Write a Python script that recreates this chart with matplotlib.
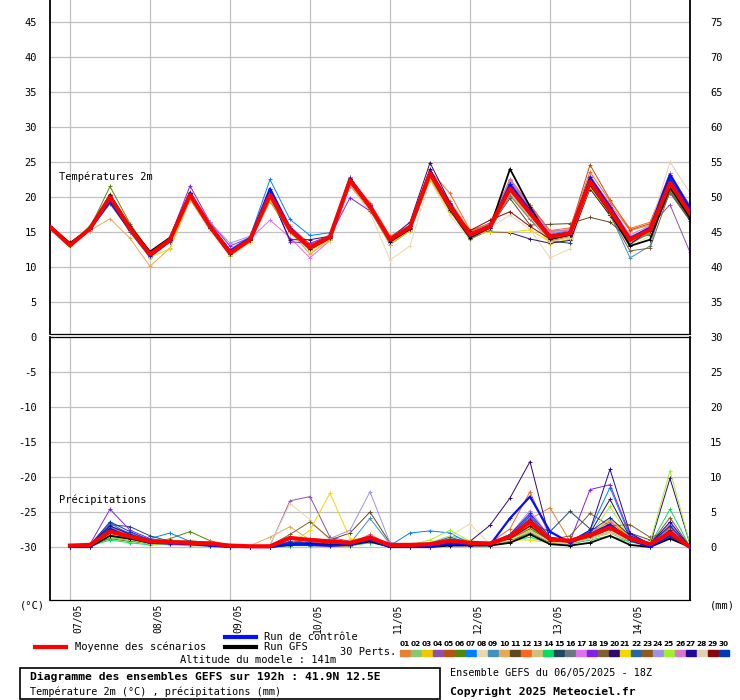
import matplotlib
matplotlib.use("Agg")
import matplotlib.pyplot as plt
from matplotlib.lines import Line2D
from matplotlib.patches import Rectangle
from matplotlib.transforms import ScaledTranslation

plt.rcParams['font.family'] = ['DejaVu Sans Mono']
plt.rcParams['axes.unicode_minus'] = False

# 6-hourly steps of the 06/05/2025 18Z run
hours_temp = list(range(0, 193, 6))
hours_precip = list(range(6, 193, 6))
day_ticks = [6, 30, 54, 78, 102, 126, 150, 174]
day_labels = ["07/05", "08/05", "09/05", "10/05", "11/05", "12/05", "13/05", "14/05"]

member_colors = ["#e88030", "#88c870", "#f0c800", "#9050b0", "#b85010", "#508808",
                 "#0080ff", "#e8d8b0", "#4090c0", "#e8a858", "#604820", "#f86820",
                 "#d0c080", "#00e060", "#204860", "#687880", "#e070f0", "#8020f0",
                 "#806030", "#300870", "#f0d800", "#2868a0", "#905820", "#a090e8",
                 "#a0f030", "#d878d0", "#200898", "#e0d0b0", "#880808", "#0038b8"]

mean_temp = [15.7, 13.1, 15.5, 20.0, 15.5, 11.8, 13.9, 20.3, 15.8, 12.0, 13.9, 20.3, 15.3, 12.8, 14.3, 22.4, 18.6,
             13.9, 15.7, 23.4, 18.6, 14.6, 15.8, 21.2, 17.7, 14.3, 14.8, 22.2, 18.1, 13.9, 15.3, 22.0, 17.7]
control_temp = [15.7, 13.1, 15.4, 19.4, 15.3, 11.6, 13.8, 20.6, 15.9, 12.3, 14.1, 21.2, 15.6, 12.9, 14.4, 22.6, 18.7,
                13.9, 15.8, 23.6, 18.8, 14.5, 15.7, 21.8, 18.1, 14.4, 14.9, 22.8, 18.6, 14.1, 15.6, 23.2, 18.4]
gfs_temp = [15.9, 13.4, 15.5, 20.3, 15.8, 12.2, 14.2, 20.6, 15.6, 11.8, 13.9, 20.4, 15.2, 12.6, 14.2, 22.6, 18.6,
            13.6, 15.4, 23.2, 18.2, 14.2, 15.6, 24.0, 18.6, 14.0, 14.6, 21.8, 17.8, 13.0, 13.9, 21.4, 17.0]

temp_members = [
    [15.6, 13.2, 15.4, 19.6, 15.8, 12.2, 13.6, 20.0, 16.2, 12.4, 13.5, 20.6, 15.8, 13.2, 14.0, 22.0, 19.0, 14.3, 15.9, 23.8, 19.4, 15.2, 16.2, 22.0, 18.6, 15.0, 14.6, 23.0, 19.0, 15.2, 16.0, 22.8, 18.4],
    [15.8, 13.0, 15.7, 20.3, 15.2, 11.6, 14.2, 20.6, 15.6, 11.8, 14.1, 20.0, 15.0, 12.6, 14.6, 22.6, 18.2, 13.6, 15.3, 22.8, 18.0, 14.2, 15.4, 21.0, 17.4, 13.6, 14.4, 21.4, 17.5, 13.5, 15.1, 21.0, 17.0],
    [15.6, 13.1, 15.6, 19.8, 15.4, 11.3, 13.8, 20.1, 15.9, 12.2, 13.8, 20.4, 15.5, 13.0, 14.2, 22.2, 18.8, 13.4, 15.5, 23.0, 18.4, 14.0, 15.2, 20.4, 17.0, 13.3, 14.0, 21.8, 17.8, 13.2, 14.9, 21.6, 17.2],
    [15.7, 13.4, 15.3, 19.9, 15.6, 11.9, 14.0, 20.4, 15.7, 12.2, 14.2, 19.9, 15.1, 12.4, 14.6, 22.6, 19.0, 14.2, 15.6, 23.2, 18.9, 14.8, 16.0, 21.4, 17.9, 14.6, 15.0, 22.4, 18.4, 14.1, 15.8, 18.9, 12.1],
    [15.7, 13.0, 15.6, 20.2, 15.7, 12.0, 14.0, 20.5, 16.0, 12.1, 14.0, 20.8, 15.6, 12.9, 14.5, 22.8, 18.9, 14.1, 16.0, 23.6, 19.0, 15.0, 16.3, 22.4, 18.8, 15.1, 15.3, 24.6, 19.6, 15.3, 16.2, 22.6, 18.2],
    [15.8, 13.4, 15.6, 21.5, 16.2, 12.1, 14.0, 20.0, 15.6, 11.6, 13.6, 19.4, 14.9, 12.4, 14.0, 21.6, 18.2, 13.2, 15.2, 22.6, 18.1, 14.0, 15.6, 20.6, 17.2, 13.8, 14.4, 21.2, 17.6, 13.4, 15.0, 20.8, 16.8],
    [15.7, 13.1, 15.3, 19.4, 15.3, 11.6, 14.0, 20.6, 15.9, 12.5, 14.3, 22.5, 16.8, 14.5, 14.9, 22.8, 18.9, 14.2, 15.8, 23.6, 19.0, 14.7, 16.0, 22.2, 18.4, 14.7, 15.2, 22.8, 18.9, 14.2, 15.5, 23.2, 18.8],
    [15.6, 13.0, 15.2, 19.2, 15.0, 11.2, 13.5, 19.8, 15.2, 11.8, 13.6, 19.6, 14.8, 12.0, 13.6, 21.6, 17.8, 11.0, 13.0, 22.4, 17.4, 13.8, 15.6, 17.4, 15.4, 11.3, 12.6, 21.4, 17.2, 13.0, 14.4, 21.8, 17.2],
    [15.6, 13.0, 15.4, 19.0, 15.2, 11.4, 13.6, 20.2, 15.6, 11.9, 13.8, 20.0, 15.2, 12.6, 14.2, 22.0, 18.4, 13.6, 15.6, 23.2, 18.4, 14.4, 15.6, 21.4, 17.6, 14.0, 14.6, 22.0, 17.6, 11.3, 13.0, 22.4, 17.8],
    [15.8, 13.2, 15.2, 16.9, 14.1, 10.1, 12.7, 19.6, 15.4, 11.6, 13.6, 19.8, 15.2, 11.8, 14.0, 22.0, 18.3, 13.2, 15.4, 22.6, 18.3, 14.4, 15.8, 20.8, 17.2, 13.8, 14.8, 22.0, 17.8, 13.4, 15.0, 21.4, 17.4],
    [15.7, 13.5, 15.5, 20.2, 15.8, 12.0, 14.1, 20.2, 15.7, 11.9, 13.9, 20.1, 15.0, 12.6, 14.2, 22.1, 18.4, 13.7, 15.6, 23.0, 18.3, 14.6, 15.8, 19.8, 16.0, 16.1, 16.2, 17.1, 16.4, 14.0, 14.6, 20.6, 16.6],
    [15.7, 13.3, 15.6, 20.4, 15.9, 12.0, 14.2, 20.7, 16.3, 12.3, 14.1, 20.6, 15.8, 13.3, 14.6, 22.6, 19.2, 14.4, 16.0, 23.8, 20.5, 15.3, 16.1, 22.6, 18.9, 15.2, 15.6, 23.6, 19.4, 15.5, 16.4, 23.4, 18.6],
    [15.7, 13.1, 15.5, 19.6, 15.2, 11.6, 13.7, 19.9, 15.6, 12.0, 13.8, 20.0, 15.3, 12.6, 14.2, 22.0, 18.2, 13.5, 15.3, 22.9, 18.0, 14.2, 15.3, 20.6, 17.0, 13.8, 14.4, 21.6, 17.6, 13.6, 15.0, 21.4, 17.4],
    [15.8, 13.0, 15.9, 20.3, 15.6, 11.8, 14.1, 20.5, 16.0, 12.2, 14.2, 20.3, 15.2, 12.7, 14.4, 22.5, 18.6, 14.0, 15.8, 23.3, 18.8, 14.4, 15.6, 21.2, 17.8, 14.2, 14.8, 21.8, 17.6, 13.4, 14.8, 21.2, 16.9],
    [15.6, 13.0, 15.4, 19.2, 15.0, 11.4, 13.6, 20.0, 15.6, 12.0, 13.9, 20.0, 15.1, 12.6, 14.1, 22.2, 18.4, 13.8, 15.7, 23.0, 18.3, 14.4, 15.5, 21.2, 17.4, 13.7, 13.4, 21.6, 17.8, 13.6, 15.1, 22.2, 17.8],
    [15.7, 13.2, 15.5, 19.8, 15.4, 11.7, 13.8, 20.1, 15.8, 12.1, 13.9, 19.6, 15.0, 12.9, 14.3, 21.8, 18.3, 13.6, 15.4, 22.6, 18.0, 14.0, 15.3, 20.2, 16.8, 13.9, 14.5, 21.2, 17.4, 13.5, 14.8, 20.6, 17.0],
    [15.7, 13.3, 15.2, 19.6, 15.3, 11.7, 14.0, 20.3, 15.8, 12.4, 14.0, 16.7, 14.2, 11.3, 13.8, 21.6, 18.4, 13.8, 15.8, 23.2, 18.6, 14.6, 15.8, 21.4, 18.0, 14.4, 14.9, 22.0, 18.2, 14.2, 15.6, 22.6, 18.0],
    [15.7, 13.1, 15.4, 19.8, 15.6, 11.9, 14.2, 21.6, 16.4, 13.0, 14.2, 20.6, 13.6, 13.4, 14.4, 19.9, 18.0, 14.0, 15.9, 23.4, 18.8, 14.8, 16.0, 21.6, 18.0, 14.5, 15.0, 22.4, 18.3, 14.0, 15.4, 22.2, 18.1],
    [15.7, 13.2, 15.5, 19.9, 15.5, 11.9, 13.9, 20.0, 15.7, 12.0, 13.8, 20.1, 15.2, 12.8, 14.2, 22.0, 18.3, 13.7, 15.6, 23.0, 18.4, 14.4, 15.6, 20.9, 17.4, 13.7, 14.2, 21.6, 17.4, 12.3, 12.7, 20.8, 16.8],
    [15.7, 13.3, 15.6, 20.1, 15.6, 12.0, 14.1, 20.4, 15.6, 12.2, 14.0, 20.2, 13.9, 13.9, 14.4, 22.6, 18.8, 14.1, 16.4, 24.9, 19.2, 14.9, 15.0, 14.9, 14.0, 13.4, 13.8, 21.2, 17.4, 13.6, 15.2, 21.8, 17.6],
    [15.6, 13.0, 15.3, 19.6, 15.2, 11.4, 12.6, 19.8, 15.4, 11.7, 13.6, 19.6, 15.0, 12.4, 13.8, 21.8, 18.2, 13.4, 15.2, 22.6, 17.8, 14.6, 15.0, 15.0, 15.3, 13.6, 14.2, 21.4, 17.6, 13.6, 15.0, 21.4, 17.2],
    [15.7, 13.1, 15.5, 19.5, 15.3, 11.5, 13.7, 20.0, 15.6, 12.0, 13.9, 20.2, 15.4, 12.8, 14.3, 22.4, 18.6, 13.9, 15.6, 23.4, 18.6, 14.6, 15.8, 21.4, 17.8, 14.4, 14.9, 22.4, 18.2, 14.0, 15.4, 22.4, 17.8],
    [15.7, 13.2, 15.4, 20.1, 15.6, 11.9, 14.0, 20.2, 15.8, 12.1, 14.0, 20.4, 15.4, 12.9, 14.4, 22.5, 18.7, 14.0, 15.8, 23.5, 18.7, 14.7, 15.9, 21.0, 17.6, 14.2, 14.6, 22.0, 18.0, 13.8, 15.2, 21.8, 17.4],
    [15.8, 13.3, 15.6, 20.2, 15.8, 12.1, 14.2, 20.6, 16.4, 13.4, 14.4, 20.7, 15.6, 13.0, 14.6, 22.8, 19.0, 14.2, 16.0, 23.6, 19.0, 14.8, 16.0, 22.0, 18.4, 14.8, 15.3, 22.6, 18.6, 14.4, 15.6, 23.0, 18.4],
    [15.7, 13.0, 15.5, 19.7, 15.3, 11.6, 13.8, 20.1, 15.7, 11.9, 13.8, 20.0, 15.1, 12.6, 14.2, 22.2, 18.4, 13.8, 15.6, 23.1, 18.4, 14.3, 15.5, 21.0, 17.5, 14.0, 14.6, 21.8, 17.8, 13.6, 15.1, 21.6, 17.3],
    [15.8, 13.2, 15.6, 20.1, 15.7, 12.0, 14.0, 20.4, 15.9, 12.3, 14.1, 20.6, 15.6, 13.0, 14.5, 22.6, 18.8, 14.1, 15.9, 23.6, 18.9, 14.9, 16.2, 22.4, 18.6, 15.0, 15.4, 23.0, 18.8, 14.6, 15.9, 23.4, 18.6],
    [15.7, 13.2, 15.5, 20.0, 15.5, 11.8, 14.0, 20.5, 15.9, 12.2, 14.0, 20.4, 15.4, 12.9, 14.4, 22.7, 18.9, 14.1, 15.9, 24.0, 19.0, 14.8, 16.0, 21.8, 17.6, 14.2, 14.8, 22.6, 17.8, 13.2, 15.4, 22.8, 16.8],
    [15.6, 13.0, 15.4, 19.8, 15.4, 11.6, 13.8, 20.0, 15.6, 12.0, 13.8, 20.0, 15.2, 12.6, 14.2, 22.2, 18.4, 13.6, 15.4, 23.0, 18.3, 14.2, 15.4, 20.8, 17.2, 13.6, 14.2, 21.8, 17.8, 13.8, 15.6, 25.0, 20.6],
    [15.7, 13.1, 15.5, 19.9, 15.5, 11.8, 13.9, 20.2, 15.8, 12.0, 13.9, 20.2, 15.3, 12.8, 14.3, 22.3, 18.5, 13.8, 15.6, 23.2, 18.5, 15.2, 16.7, 17.9, 15.8, 14.0, 14.6, 22.0, 18.0, 13.8, 15.2, 21.8, 17.6],
    [15.7, 13.2, 15.5, 19.7, 15.4, 11.7, 13.9, 20.3, 15.9, 12.2, 14.0, 20.5, 15.5, 12.9, 14.4, 22.6, 18.8, 14.0, 15.8, 23.5, 18.8, 14.7, 15.9, 21.6, 18.0, 14.5, 15.0, 22.6, 18.4, 14.2, 15.6, 22.6, 18.2],
]

mean_precip = [0.2, 0.3, 2.2, 1.5, 0.8, 0.7, 0.6, 0.5, 0.2, 0.1, 0.1, 1.3, 1.0, 0.8, 0.6, 1.3,
               0.3, 0.3, 0.4, 0.9, 0.6, 0.5, 1.5, 3.6, 1.1, 0.9, 1.7, 2.8, 1.2, 0.4, 2.0, 0.0]
control_precip = [0, 0, 2.6, 1.4, 0.6, 0.5, 0.4, 0.2, 0, 0, 0, 0.4, 0.3, 0.2, 0.3, 1.0,
                  0, 0, 0, 0.5, 0.3, 0.3, 4.1, 7.2, 2.2, 0.6, 1.8, 3.2, 1.0, 0, 1.6, 0]
gfs_precip = [0, 0, 1.6, 1.2, 0.6, 0.8, 0.7, 0.4, 0, 0, 0, 0.3, 0.4, 0.3, 0.3, 0.8,
              0, 0, 0, 0.2, 0.2, 0.2, 0.6, 1.8, 0.4, 0.2, 0.6, 1.6, 0.3, 0, 1.2, 0]

precip_members = [
    [0, 0.3, 2.4, 1.6, 0.6, 0.5, 0.4, 0.3, 0, 0, 0, 0.4, 0.3, 0.2, 0.3, 1.0, 0.2, 0, 0.3, 0.6, 0.4, 0.3, 1.8, 4.0, 5.6, 0.8, 1.2, 2.2, 0.8, 0.2, 2.4, 0],
    [0, 0.2, 1.6, 1.0, 0.5, 0.3, 0.2, 0.1, 0, 0, 0, 0.2, 0.4, 0.3, 0.2, 0.6, 0.1, 0.2, 0.6, 1.6, 0.9, 0.4, 1.2, 2.8, 0.9, 0.6, 1.6, 3.4, 1.0, 0.3, 2.2, 0],
    [0, 0.4, 2.8, 1.8, 0.9, 0.6, 0.4, 0.2, 0, 0, 0, 0.6, 0.4, 0.2, 0.1, 0.8, 0.2, 0.1, 0.2, 0.5, 0.3, 0.2, 1.0, 2.6, 0.7, 0.4, 1.4, 4.2, 1.6, 0.5, 2.6, 0],
    [0.1, 0.2, 3.0, 2.0, 1.0, 0.6, 0.5, 0.3, 0, 0, 0.2, 6.6, 7.2, 1.4, 0.8, 1.6, 0.3, 0.2, 0.4, 0.8, 0.5, 0.4, 1.6, 4.2, 1.2, 0.8, 2.0, 3.2, 1.4, 0.4, 3.0, 0],
    [0, 0.3, 1.8, 1.2, 0.6, 0.8, 0.9, 0.6, 0, 0, 0, 0.3, 0.2, 0.1, 0.2, 0.8, 0.2, 0.1, 0.3, 0.6, 0.4, 0.3, 1.4, 3.8, 0.9, 0.6, 1.8, 2.6, 1.2, 0.3, 2.8, 0],
    [0, 0.2, 1.2, 0.8, 0.5, 1.2, 2.2, 0.9, 0.2, 0, 0, 0.2, 0.3, 0.2, 0.4, 1.2, 0.2, 0, 0.2, 0.4, 0.2, 0.2, 0.8, 2.0, 0.6, 0.5, 1.2, 2.0, 0.8, 0.2, 1.4, 0],
    [0, 0.3, 2.6, 1.6, 1.2, 2.0, 0.8, 0.4, 0, 0, 0, 0.5, 0.6, 0.5, 0.3, 1.4, 0.2, 2.0, 2.3, 2.0, 0.5, 0.3, 1.6, 4.6, 1.0, 0.8, 2.4, 8.5, 1.5, 0.4, 2.2, 0],
    [0, 0.2, 2.0, 1.4, 0.7, 0.5, 0.4, 0.6, 0.3, 0, 0.3, 6.2, 3.9, 1.0, 0.6, 1.2, 0.2, 0.2, 0.4, 1.6, 3.3, 0.4, 1.2, 3.0, 1.0, 0.7, 1.4, 2.4, 1.0, 0.3, 1.6, 0],
    [0, 0.3, 2.8, 2.0, 0.9, 0.6, 0.5, 0.3, 0, 0, 0, 0.6, 0.4, 0.3, 0.5, 4.1, 0.4, 0.3, 0.5, 1.0, 0.6, 0.4, 1.6, 3.8, 1.2, 1.0, 1.8, 3.0, 1.2, 0.4, 2.0, 0],
    [0, 0.2, 2.4, 1.2, 0.6, 0.4, 0.3, 0.2, 0, 0.2, 1.4, 2.9, 1.0, 0.4, 0.3, 1.0, 0.2, 0.1, 0.3, 0.6, 0.4, 0.3, 1.2, 3.2, 0.9, 0.7, 1.5, 2.6, 1.1, 0.3, 1.8, 0],
    [0, 0.2, 1.4, 1.0, 0.4, 0.5, 0.6, 0.4, 0, 0, 0, 0.4, 1.2, 1.0, 2.0, 5.0, 0.6, 0.2, 0.3, 0.5, 0.3, 0.3, 0.9, 2.2, 0.8, 0.5, 1.3, 2.6, 2.0, 1.0, 2.4, 0],
    [0, 0.4, 2.6, 1.8, 1.0, 0.7, 0.6, 0.8, 0.2, 0, 0, 0.8, 0.9, 0.6, 0.5, 1.8, 0.3, 0.2, 0.4, 0.8, 0.5, 0.6, 2.6, 7.9, 1.4, 1.0, 2.0, 3.6, 1.4, 0.4, 3.2, 0],
    [0, 0.2, 1.8, 1.2, 0.6, 0.5, 0.4, 0.3, 0, 0, 0, 0.3, 0.3, 0.2, 0.3, 0.9, 0.2, 0.1, 0.3, 0.5, 0.3, 0.3, 1.0, 2.4, 0.8, 0.5, 1.3, 2.2, 0.9, 0.3, 1.6, 0],
    [0, 0.1, 1.0, 0.6, 0.3, 0.4, 0.5, 0.5, 0, 0, 0, 0.2, 0.2, 0.2, 0.2, 0.6, 0.1, 0.1, 0.4, 1.2, 0.8, 0.4, 0.8, 1.4, 0.5, 0.4, 1.0, 1.6, 0.7, 0.3, 5.4, 0],
    [0, 0.3, 3.2, 2.9, 1.6, 0.8, 0.6, 0.4, 0, 0, 0, 0.5, 0.4, 0.3, 0.4, 1.2, 0.3, 0.2, 0.3, 0.6, 0.4, 0.5, 1.4, 3.4, 2.2, 5.1, 2.6, 2.8, 1.2, 0.4, 2.0, 0],
    [0, 0.2, 2.0, 1.4, 0.7, 0.6, 0.5, 0.3, 0, 0, 0, 0.4, 0.3, 0.2, 0.3, 1.0, 0.2, 0.2, 0.3, 0.7, 0.4, 0.3, 1.2, 3.0, 0.9, 0.6, 1.5, 2.5, 1.0, 0.3, 2.6, 0],
    [0, 0.3, 2.6, 1.8, 0.8, 0.6, 0.5, 0.3, 0, 0, 0, 0.6, 0.6, 0.4, 0.4, 1.4, 0.3, 0.2, 0.4, 0.9, 0.6, 0.5, 1.8, 5.2, 1.4, 1.0, 2.0, 3.8, 1.6, 0.5, 3.4, 0],
    [0, 0.4, 5.4, 2.4, 1.2, 0.8, 0.6, 0.4, 0, 0, 0, 0.8, 0.6, 0.4, 0.6, 1.6, 0.3, 0.2, 0.4, 1.0, 0.6, 0.5, 1.6, 4.4, 1.2, 0.8, 8.2, 8.9, 1.8, 0.5, 2.6, 0],
    [0, 0.2, 1.6, 1.1, 0.5, 0.4, 0.3, 0.2, 0, 0, 0.2, 1.8, 3.6, 1.2, 0.6, 1.4, 0.2, 0.1, 0.3, 0.6, 0.4, 0.3, 1.2, 3.0, 1.0, 1.6, 4.8, 3.0, 3.2, 1.4, 2.2, 0],
    [0, 0.3, 2.2, 1.4, 0.7, 0.6, 0.5, 0.3, 0, 0, 0, 0.4, 0.3, 0.3, 0.4, 1.0, 0.3, 0.2, 0.3, 0.6, 0.8, 3.1, 7.0, 12.2, 1.0, 0.8, 2.0, 6.8, 1.4, 0.3, 9.8, 0.4],
    [0, 0.2, 1.8, 1.2, 0.6, 0.4, 0.4, 0.2, 0, 0, 0, 0.4, 2.4, 7.7, 1.2, 1.0, 0.2, 0.1, 0.3, 0.6, 0.4, 0.3, 1.0, 1.0, 0.6, 0.5, 1.6, 4.0, 1.4, 0.4, 2.2, 0],
    [0, 0.3, 3.4, 1.8, 1.0, 0.7, 0.5, 0.3, 0, 0, 0, 0.6, 0.5, 0.4, 0.4, 1.2, 0.3, 0.2, 0.5, 1.4, 0.6, 0.4, 1.6, 4.0, 1.2, 0.9, 1.9, 3.2, 1.3, 0.4, 2.2, 0],
    [0, 0.2, 1.6, 1.2, 0.5, 0.5, 0.4, 0.3, 0, 0, 0, 0.3, 0.3, 0.3, 0.5, 1.4, 0.2, 0.1, 0.3, 0.6, 0.4, 0.3, 1.1, 2.6, 0.9, 0.6, 1.4, 2.6, 1.2, 0.4, 4.2, 0],
    [0, 0.3, 2.4, 1.6, 0.8, 0.6, 0.5, 0.3, 0, 0, 0, 0.5, 0.5, 1.2, 2.4, 7.9, 0.6, 0.2, 0.4, 0.8, 0.5, 0.4, 1.4, 3.6, 1.0, 0.8, 1.8, 3.0, 1.2, 0.4, 2.4, 0],
    [0, 0.2, 1.4, 1.0, 0.4, 0.3, 0.3, 0.2, 0, 0, 0, 0.3, 0.3, 0.2, 0.3, 0.8, 0.2, 0.3, 1.0, 2.4, 0.8, 0.3, 1.0, 2.4, 0.8, 0.6, 1.6, 5.8, 1.2, 0.6, 10.9, 0.4],
    [0, 0.3, 2.2, 1.5, 0.8, 0.6, 0.5, 0.3, 0, 0, 0, 0.5, 0.4, 0.3, 0.4, 1.2, 0.3, 0.2, 0.4, 0.9, 0.5, 0.4, 1.4, 3.4, 1.0, 0.8, 1.8, 2.9, 1.2, 0.4, 2.6, 0],
    [0, 0.3, 3.0, 1.8, 0.9, 0.6, 0.5, 0.3, 0, 0, 0, 0.5, 0.4, 0.3, 0.4, 1.1, 0.3, 0.2, 0.4, 0.8, 0.5, 0.4, 1.4, 3.8, 1.2, 0.8, 2.4, 11.1, 2.0, 0.4, 3.6, 0],
    [0, 0.2, 1.8, 1.2, 0.6, 0.5, 0.4, 0.3, 0, 0, 0, 0.3, 0.3, 0.2, 0.3, 0.8, 0.2, 0.1, 0.3, 0.6, 0.4, 0.3, 1.0, 2.2, 0.8, 0.5, 1.2, 2.0, 0.9, 0.3, 1.8, 0],
    [0, 0.3, 2.0, 1.4, 0.7, 0.6, 0.5, 0.3, 0, 0, 0, 0.4, 0.4, 0.3, 0.3, 1.0, 0.2, 0.2, 0.3, 0.7, 0.4, 0.3, 1.2, 3.0, 0.9, 0.7, 1.6, 2.8, 1.1, 0.3, 2.4, 0],
    [0, 0.3, 3.6, 2.2, 1.0, 0.7, 0.5, 0.3, 0, 0, 0, 0.7, 0.6, 0.4, 0.5, 1.4, 0.3, 0.2, 0.4, 0.9, 0.6, 0.5, 1.8, 4.8, 1.4, 0.9, 2.2, 4.2, 1.6, 0.5, 3.0, 0],
]

W, H = 740, 700
fig = plt.figure(figsize=(W / 100, H / 100), dpi=100)


def px_axes(x0, y0, x1, y1):
    return fig.add_axes([x0 / W, 1 - y1 / H, (x1 - x0) / W, (y1 - y0) / H])


def ftext(x, y, s, **kw):
    fig.text(x / W, 1 - y / H, s, **kw)


# one degree = 7 px, temperature 0 at y=337 px
ax_t = px_axes(50, 0, 690, 334)
ax_p = px_axes(50, 337, 690, 600)

grid_kw = dict(color="#c0c0c0", lw=0.9, zorder=0)
mark_kw = dict(marker="+", markersize=3.5, markeredgewidth=0.7)

for ax in (ax_t, ax_p):
    ax.set_xlim(0, 192)
    for h in day_ticks:
        ax.axvline(h, **grid_kw)
    ax.spines["left"].set_linewidth(1.3)
    ax.spines["right"].set_linewidth(1.3)
    ax.spines["top"].set_linewidth(0.9)
    ax.spines["bottom"].set_linewidth(0.9)
    ax.tick_params(length=0)

# temperatures
ax_t.set_ylim((337 - 334) / 7, 337 / 7)
for v in range(5, 50, 5):
    ax_t.axhline(v, **grid_kw)
for vals, c in zip(temp_members, member_colors):
    ax_t.plot(hours_temp, vals, color=c, lw=0.7, zorder=2, **mark_kw)
ax_t.plot(hours_temp, gfs_temp, color="black", lw=1.3, zorder=3, **mark_kw)
ax_t.plot(hours_temp, control_temp, color="#0010ff", lw=1.6, zorder=4, **mark_kw)
ax_t.plot(hours_temp, mean_temp, color="#ff0000", lw=3.0, zorder=5)
ax_t.spines["top"].set_visible(False)
ax_t.set_xticks([])
ax_t.set_yticks(range(5, 50, 5))
ax_t.tick_params(axis="y", labelsize=7.5, pad=9.5)
sec_t = ax_t.secondary_yaxis("right", functions=(lambda v: v + 30, lambda v: v - 30))
sec_t.set_yticks(range(35, 80, 5))
sec_t.tick_params(length=0, labelsize=7.5, pad=14.5)
sec_t.spines["right"].set_visible(False)

# precipitation (left scale = mm - 30)
ax_p.set_ylim(-(600 - 547) / 7, 30)
for v in range(0, 30, 5):
    ax_p.axhline(v, **grid_kw)
for vals, c in zip(precip_members, member_colors):
    ax_p.plot(hours_precip, vals, color=c, lw=0.7, zorder=2, **mark_kw)
ax_p.plot(hours_precip, gfs_precip, color="black", lw=1.3, zorder=3, **mark_kw)
ax_p.plot(hours_precip, control_precip, color="#0010ff", lw=1.6, zorder=4, **mark_kw)
ax_p.plot(hours_precip, mean_precip, color="#ff0000", lw=3.0, zorder=5)
ax_p.yaxis.tick_right()
ax_p.set_yticks(range(0, 35, 5))
ax_p.tick_params(axis="y", labelsize=7.5, pad=14.5)
sec_p = ax_p.secondary_yaxis("left", functions=(lambda v: v - 30, lambda v: v + 30))
sec_p.set_yticks(range(-30, 5, 5))
sec_p.tick_params(length=0, labelsize=7.5, pad=9.5)
sec_p.spines["left"].set_visible(False)

ax_p.set_xticks(day_ticks)
ax_p.set_xticklabels(day_labels, rotation=90, fontsize=7)
ax_p.tick_params(axis="x", pad=2.5)
for lab in ax_p.get_xticklabels():
    lab.set_transform(lab.get_transform() + ScaledTranslation(8 / 100, 0, fig.dpi_scale_trans))

ftext(59, 177, "Températures 2m", fontsize=7.5, va="center")
ftext(59, 500, "Précipitations", fontsize=7.5, va="center")
ftext(20, 606, "(°C)", fontsize=7.5, va="center")
ftext(710, 606, "(mm)", fontsize=7.5, va="center")

# legend
fig.add_artist(Line2D([35 / W, 66 / W], [1 - 647 / H] * 2, color="#ff0000", lw=3))
ftext(75, 647, "Moyenne des scénarios", fontsize=7.5, va="center")
fig.add_artist(Line2D([225 / W, 256 / W], [1 - 637 / H] * 2, color="#0010ff", lw=3))
ftext(264, 637, "Run de contrôle", fontsize=7.5, va="center")
fig.add_artist(Line2D([225 / W, 256 / W], [1 - 647 / H] * 2, color="black", lw=3))
ftext(264, 647, "Run GFS", fontsize=7.5, va="center")
ftext(340, 652, "30 Perts.", fontsize=7.5, va="center")
for i, c in enumerate(member_colors):
    x = 400 + 11 * i
    ftext(x + 5, 644, "%02d" % (i + 1), fontsize=5.3, ha="center", va="center",
          fontweight="bold", family="DejaVu Sans Condensed")
    fig.add_artist(Rectangle((x / W, 1 - 656 / H), 10 / W, 6 / H, color=c,
                             transform=fig.transFigure))
ftext(180, 660, "Altitude du modele : 141m", fontsize=7.5, va="center")

fig.add_artist(Rectangle((20 / W, 1 - 699 / H), 420 / W, 31.5 / H, fill=False,
                         ec="black", lw=1.2, transform=fig.transFigure))
ftext(30, 677, "Diagramme des ensembles GEFS sur 192h : 41.9N 12.5E",
      fontsize=8.2, fontweight="bold", va="center")
ftext(30, 692, "Température 2m (°C) , précipitations (mm)", fontsize=7.3, va="center")
ftext(450, 673, "Ensemble GEFS du 06/05/2025 - 18Z", fontsize=7.3, va="center")
ftext(450, 692, "Copyright 2025 Meteociel.fr", fontsize=8.2, fontweight="bold", va="center")

fig.savefig("out.png", dpi=100)
